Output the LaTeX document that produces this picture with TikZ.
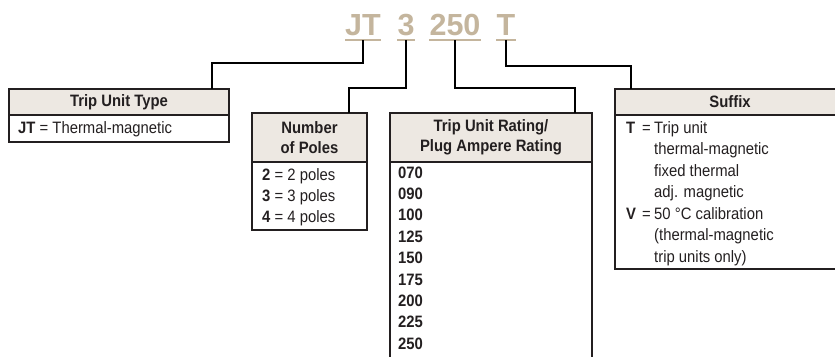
\documentclass[tikz,border=0pt]{standalone}
\usepackage{fontspec}
\setmainfont{Liberation Sans}
\newfontfamily\narrowfont{Liberation Sans}[FakeStretch=0.9]
\usetikzlibrary{positioning}
\definecolor{codetan}{HTML}{C4B59D}
\definecolor{headfill}{HTML}{EDE8E2}
\definecolor{inkdark}{HTML}{231F20}

\begin{document}
\begin{tikzpicture}[x=1pt, y=-1pt, node distance=0pt,
	headbox/.style={draw=inkdark, line width=1.2pt, fill=headfill, inner sep=0pt, outer sep=0pt, align=center, text=inkdark, font=\narrowfont\fontsize{16.5}{20}\selectfont\bfseries},
	bodybox/.style={draw=inkdark, line width=1.2pt, inner sep=0pt, outer sep=0pt},
	entrytext/.style={anchor=base west, inner sep=0pt, text=inkdark, font=\narrowfont\fontsize{16.5}{20}\selectfont},
	codetext/.style={anchor=base, inner sep=0pt, text=codetan, font=\fontsize{30.5}{36}\selectfont\bfseries},
	codeline/.style={draw=codetan, line width=2pt},
	linkline/.style={draw=black, line width=2.4pt}]
		\useasboundingbox (0,0) rectangle (835,356);
		\clip (0,0) rectangle (835,356);

		\node [codetext] (codejt) at (363,35) {JT};
		\node [codetext] (codepoles) at (406,35) {3};
		\node [codetext] (coderating) at (455,35) {250};
		\node [codetext] (codesuffix) at (506,35) {T};
		\foreach \c in {codejt, codepoles, coderating, codesuffix}
			\draw [codeline] ([yshift=-5pt]\c.base west) -- ([yshift=-5pt]\c.base east);

		\node [headbox, anchor=north west, minimum width=220, minimum height=26] (typehead) at (9,89) {Trip Unit Type};
		\node [bodybox, below=of typehead, minimum width=220, minimum height=27] (typebody) {};
		\node [entrytext] (typejt) at (18,133) {\textbf{JT} = Thermal-magnetic};

		\node [headbox, anchor=north west, minimum width=115, minimum height=49] (poleshead) at (252,113) {Number\\of Poles};
		\node [bodybox, below=of poleshead, minimum width=115, minimum height=68] (polesbody) {};
		\foreach \n [count=\i from 0] in {2,3,4}
			\node [entrytext] (poles\n) at (262,180+21*\i) {\textbf{\n} = \n\ poles};

		\node [headbox, anchor=north west, minimum width=202, minimum height=49] (ratinghead) at (390,113) {Trip Unit Rating/\\Plug Ampere Rating};
		\node [bodybox, below=of ratinghead, minimum width=202, minimum height=230] (ratingbody) {};
		\foreach \a [count=\i from 0] in {070,090,100,125,150,175,200,225,250}
			\node [entrytext, font=\narrowfont\fontsize{16.5}{20}\selectfont\bfseries] (rating\a) at (398,178+21.4*\i) {\a};

		\node [headbox, anchor=north west, minimum width=230, minimum height=26] (suffixhead) at (615,89) {Suffix};
		\node [bodybox, below=of suffixhead, minimum width=230, minimum height=154] (suffixbody) {};
		\node [entrytext] (suffixt) at (626,133) {\textbf{T}};
		\node [entrytext] (suffixteq) at (642,133) {=};
		\node [entrytext] (suffixv) at (626,219) {\textbf{V}};
		\node [entrytext] (suffixveq) at (642,219) {=};
		\foreach \t [count=\i from 0] in {Trip unit, thermal-magnetic, fixed thermal, adj. magnetic, 50 °C calibration, {(thermal-magnetic}, {trip units only)}}
			\node [entrytext] (suffix\i) at (654,133+21.5*\i) {\t};

		\draw [linkline] ([yshift=-5pt]codejt.base) -- ++(0,23) -| ([xshift=93pt]typehead.north);
		\draw [linkline] ([yshift=-5pt]codepoles.base) -- ++(0,48) -| ([xshift=39.5pt]poleshead.north);
		\draw [linkline] ([yshift=-5pt]coderating.base) -- ++(0,48) -| ([xshift=84pt]ratinghead.north);
		\draw [linkline] ([yshift=-5pt]codesuffix.base) -- ++(0,26) -| ([xshift=-99pt]suffixhead.north);
	\end{tikzpicture}
\end{document}
